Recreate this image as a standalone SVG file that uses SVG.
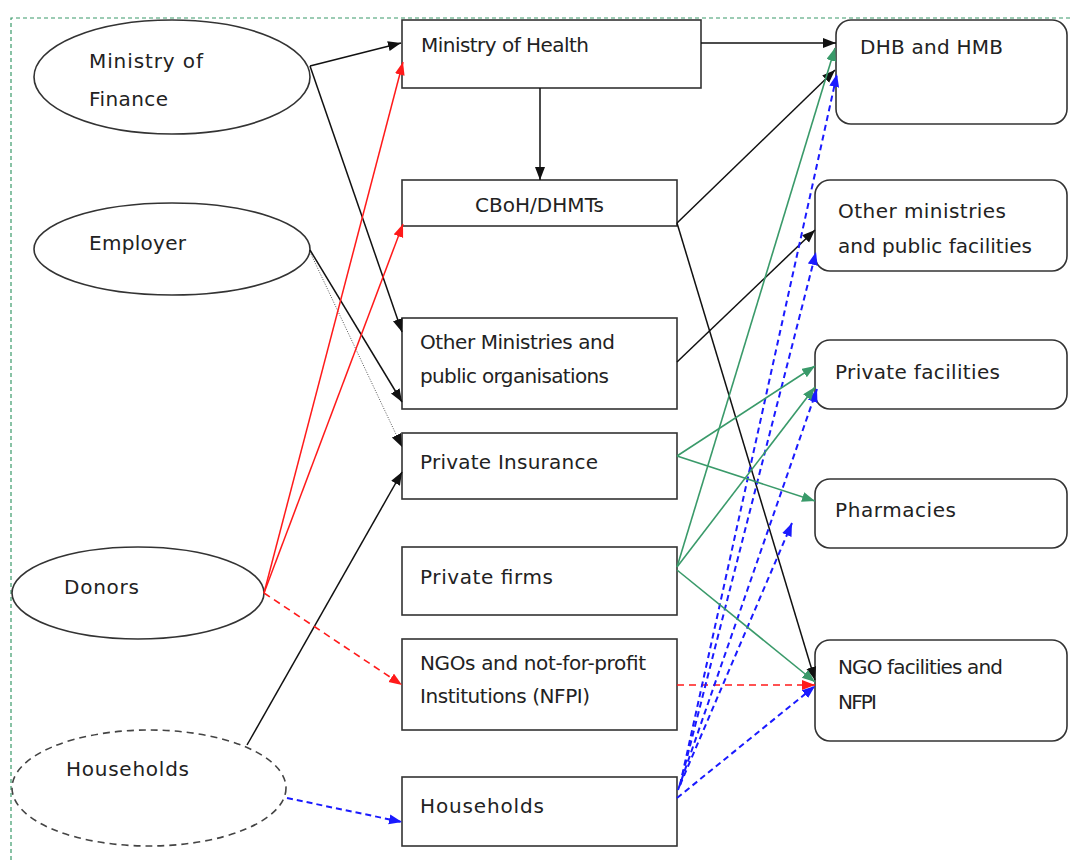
<svg xmlns="http://www.w3.org/2000/svg" width="1073" height="860" viewBox="0 0 1073 860">
  <style>
    text { font-family: "DejaVu Sans", "Noto Sans", sans-serif; font-size: 20px; fill: #222; }
    .node { fill: #fff; stroke: #333; stroke-width: 1.6; }
    .dash-node { fill: #fff; stroke: #444; stroke-width: 1.6; stroke-dasharray: 7 5; }
    .blk { stroke: #111; stroke-width: 1.5; fill: none; }
    .dot { stroke: #555; stroke-width: 1; stroke-dasharray: 1 1.5; fill: none; }
    .red { stroke: #ff1a1a; stroke-width: 1.5; fill: none; }
    .red-d { stroke: #ff1a1a; stroke-width: 1.6; fill: none; stroke-dasharray: 7 5; }
    .blue-d { stroke: #1a1aff; stroke-width: 2; fill: none; stroke-dasharray: 6 4; }
    .grn { stroke: #3a9a6a; stroke-width: 1.6; fill: none; }
    .frame { stroke: #3a9a6a; stroke-width: 1.2; fill: none; stroke-dasharray: 4 3; }
  </style>
  <defs>
    <marker id="ah-black" markerUnits="userSpaceOnUse" markerWidth="14" markerHeight="12" refX="13" refY="5" orient="auto">
      <path d="M0,0 L13,5 L0,10 z" fill="#111"/>
    </marker>
    <marker id="ah-red" markerUnits="userSpaceOnUse" markerWidth="14" markerHeight="12" refX="13" refY="5" orient="auto">
      <path d="M0,0 L13,5 L0,10 z" fill="#ff1a1a"/>
    </marker>
    <marker id="ah-blue" markerUnits="userSpaceOnUse" markerWidth="14" markerHeight="12" refX="13" refY="5" orient="auto">
      <path d="M0,0 L13,5 L0,10 z" fill="#1a1aff"/>
    </marker>
    <marker id="ah-green" markerUnits="userSpaceOnUse" markerWidth="14" markerHeight="12" refX="13" refY="5" orient="auto">
      <path d="M0,0 L13,5 L0,10 z" fill="#3a9a6a"/>
    </marker>
  </defs>

  <rect width="1073" height="860" fill="#fff"/>
  <!-- outer dashed frame -->
  <path class="frame" d="M11,860 V18 H1073"/>

  <!-- funding sources -->
  <g id="ministry-of-finance">
    <ellipse class="node" cx="172" cy="77" rx="138" ry="57"/>
    <text x="89" y="68" textLength="114">Ministry of</text>
    <text x="89" y="106" textLength="79">Finance</text>
  </g>
  <g id="employer">
    <ellipse class="node" cx="172" cy="249" rx="138" ry="46"/>
    <text x="89" y="250" textLength="97">Employer</text>
  </g>
  <g id="donors">
    <ellipse class="node" cx="138" cy="593" rx="126" ry="46"/>
    <text x="64" y="594" textLength="75">Donors</text>
  </g>
  <g id="households-source">
    <ellipse class="dash-node" cx="149" cy="788" rx="137" ry="58"/>
    <text x="66" y="776" textLength="123">Households</text>
  </g>

  <!-- financing agents -->
  <g id="ministry-of-health">
    <rect class="node" x="402" y="20" width="299" height="68"/>
    <text x="421" y="52" textLength="168">Ministry of Health</text>
  </g>
  <g id="cboh-dhmts">
    <rect class="node" x="402" y="180" width="275" height="46"/>
    <text x="475" y="212" textLength="129">CBoH/DHMTs</text>
  </g>
  <g id="other-ministries">
    <rect class="node" x="402" y="318" width="275" height="91"/>
    <text x="420" y="349" textLength="195">Other Ministries and</text>
    <text x="420" y="383" textLength="189">public organisations</text>
  </g>
  <g id="private-insurance">
    <rect class="node" x="402" y="433" width="275" height="66"/>
    <text x="420" y="469" textLength="178">Private Insurance</text>
  </g>
  <g id="private-firms">
    <rect class="node" x="402" y="547" width="275" height="68"/>
    <text x="420" y="584" textLength="133">Private firms</text>
  </g>
  <g id="ngos">
    <rect class="node" x="402" y="639" width="275" height="91"/>
    <text x="420" y="670" textLength="226">NGOs and not-for-profit</text>
    <text x="420" y="703" textLength="170">Institutions (NFPI)</text>
  </g>
  <g id="households-agent">
    <rect class="node" x="402" y="777" width="275" height="69"/>
    <text x="420" y="813" textLength="124">Households</text>
  </g>

  <!-- providers -->
  <g id="dhb-hmb">
    <rect class="node" x="836" y="20" width="231" height="104" rx="15"/>
    <text x="860" y="54" textLength="143">DHB and HMB</text>
  </g>
  <g id="other-public-facilities">
    <rect class="node" x="815" y="180" width="252" height="91" rx="15"/>
    <text x="838" y="218" textLength="168">Other ministries</text>
    <text x="838" y="253" textLength="194">and public facilities</text>
  </g>
  <g id="private-facilities">
    <rect class="node" x="815" y="340" width="252" height="69" rx="15"/>
    <text x="835" y="379" textLength="165">Private facilities</text>
  </g>
  <g id="pharmacies">
    <rect class="node" x="815" y="479" width="252" height="69" rx="15"/>
    <text x="835" y="517" textLength="121">Pharmacies</text>
  </g>
  <g id="ngo-facilities">
    <rect class="node" x="815" y="640" width="252" height="101" rx="15"/>
    <text x="838" y="674" textLength="165">NGO facilities and</text>
    <text x="838" y="709" textLength="39">NFPI</text>
  </g>

  <!-- flows -->
  <g id="connectors">
    <!-- public / employer / household flows -->
    <path class="blk" d="M310,66 L401,43" marker-end="url(#ah-black)"/>
    <path class="blk" d="M310,66 L402,332" marker-end="url(#ah-black)"/>
    <path class="blk" d="M310,250 L402,402" marker-end="url(#ah-black)"/>
    <path class="dot" d="M310,252 L402,447" marker-end="url(#ah-black)"/>
    <path class="blk" d="M247,745 L402,472" marker-end="url(#ah-black)"/>
    <path class="blk" d="M540,88 L540,180" marker-end="url(#ah-black)"/>
    <path class="blk" d="M701,43 L836,43" marker-end="url(#ah-black)"/>
    <path class="blk" d="M677,223 L835,70" marker-end="url(#ah-black)"/>
    <path class="blk" d="M677,223 L815,680" marker-end="url(#ah-black)"/>
    <path class="blk" d="M677,362 L815,230" marker-end="url(#ah-black)"/>

    <!-- donor flows -->
    <path class="red" d="M264,593 L403,62" marker-end="url(#ah-red)"/>
    <path class="red" d="M264,593 L403,224" marker-end="url(#ah-red)"/>
    <path class="red-d" d="M264,593 L402,685" marker-end="url(#ah-red)"/>
    <path class="red-d" d="M677,685 L815,685" marker-end="url(#ah-red)"/>

    <!-- out-of-pocket flows -->
    <path class="blue-d" d="M287,798 L402,822" marker-end="url(#ah-blue)"/>
    <path class="blue-d" d="M680,785 L837,74" marker-end="url(#ah-blue)"/>
    <path class="blue-d" d="M680,785 L816,252" marker-end="url(#ah-blue)"/>
    <path class="blue-d" d="M678,790 L817,389" marker-end="url(#ah-blue)"/>
    <path class="blue-d" d="M680,785 L792,523" marker-end="url(#ah-blue)"/>
    <path class="blue-d" d="M677,798 L815,686" marker-end="url(#ah-blue)"/>

    <!-- private flows -->
    <path class="grn" d="M677,456 L815,366" marker-end="url(#ah-green)"/>
    <path class="grn" d="M677,456 L815,501" marker-end="url(#ah-green)"/>
    <path class="grn" d="M677,567 L835,48" marker-end="url(#ah-green)"/>
    <path class="grn" d="M677,567 L815,387" marker-end="url(#ah-green)"/>
    <path class="grn" d="M677,570 L815,682" marker-end="url(#ah-green)"/>
  </g>
</svg>
